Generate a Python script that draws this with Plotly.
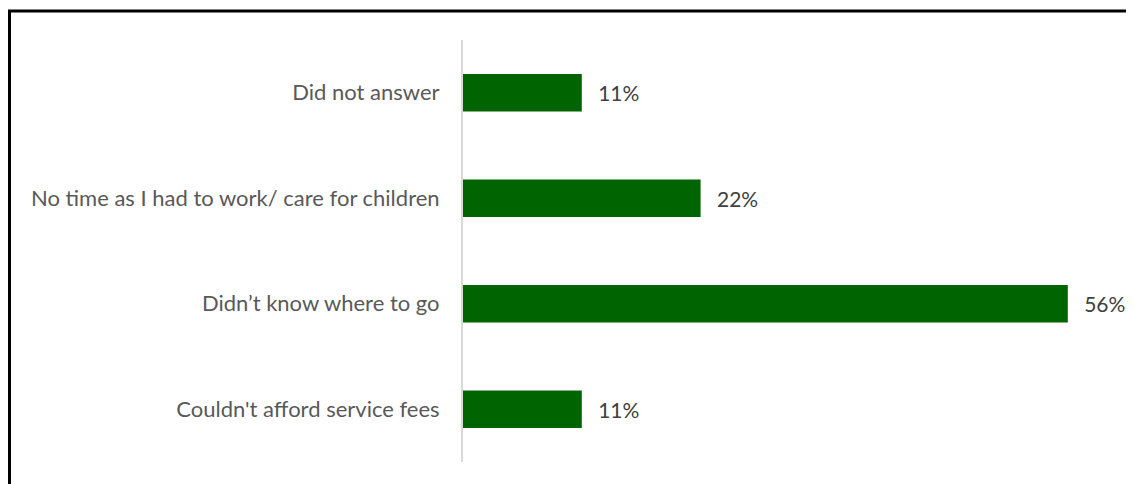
import plotly.graph_objects as go

categories = [
    "Couldn't afford service fees",
    "Didn\u2019t know where to go",
    "No time as I had to work/ care for children",
    "Did not answer",
]
values = [11, 56, 22, 11]
labels = [f"{v}%" for v in values]

# page has an 8px body margin; figure sized to fit the 1134x484 window
OFF = 8
W, H = 1134 - OFF, 484 - OFF
ml, mr, mt, mb = 463 - OFF, 23, 40 - OFF, 22
pw = W - ml - mr
ph = H - mt - mb

FONT = "Lato, Open Sans, sans-serif"

fig = go.Figure(
    go.Bar(
        x=values,
        y=categories,
        orientation="h",
        marker=dict(color="#006400", line=dict(width=0)),
        width=0.355,
        text=["  \u2009" + t for t in labels],
        textposition="outside",
        textfont=dict(family=FONT, size=21, color="#404040"),
        cliponaxis=False,
        hoverinfo="skip",
    )
)

fig.update_layout(
    width=W,
    height=H,
    margin=dict(l=ml, r=mr, t=mt, b=mb, autoexpand=False),
    paper_bgcolor="white",
    plot_bgcolor="white",
    showlegend=False,
    font=dict(family=FONT, size=22, color="#595959"),
    xaxis=dict(range=[0, 60], visible=False, showgrid=False, zeroline=False),
    yaxis=dict(
        showline=True,
        linecolor="#d9d9d9",
        linewidth=2,
        showgrid=False,
        ticks="",
        ticklabelstandoff=17,
        tickfont=dict(family=FONT, size=22, color="#595959"),
    ),
    shapes=[
        dict(
            type="rect",
            xref="paper",
            yref="paper",
            x0=(1.5 - ml) / pw,
            x1=2,
            y0=-1,
            y1=(H - mb - 3) / ph,
            line=dict(color="black", width=3),
            fillcolor="rgba(0,0,0,0)",
            layer="above",
        )
    ],
)

fig.write_html("out.html")
